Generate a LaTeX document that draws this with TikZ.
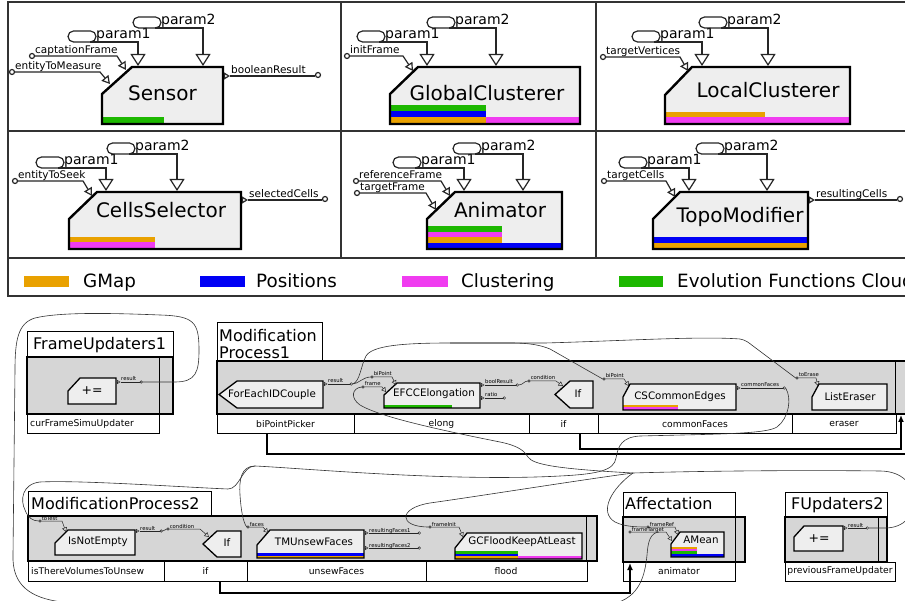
\documentclass[tikz,border=0pt]{standalone}
\usepackage{fontspec}
\setmainfont{DejaVu Sans}
\usetikzlibrary{arrows.meta}
\definecolor{cOr}{HTML}{E9A100}
\definecolor{cBl}{HTML}{0000F5}
\definecolor{cMg}{HTML}{F03CF0}
\definecolor{cGr}{HTML}{1DB800}
\definecolor{blkfill}{HTML}{EEEEEE}
\definecolor{grpfill}{HTML}{D6D6D6}
% block with cut top-left corner: x1,y1,x2,y2,cutx,cuty
\newcommand\blkshape[7][]{\path[#1] ({#2+#6},#3) -- (#4,#3) -- (#4,#5) -- (#2,#5) -- (#2,{#3+#7}) -- cycle;}
% left-pointing block: xtip, xcorner, xright, ytop, ybottom
\newcommand\ptshape[6][]{\path[#1] (#3,#5) -- (#4,#5) -- (#4,#6) -- (#3,#6) -- (#2,{(#5+#6)/2}) -- cycle;}
% big ports
\newcommand\myinport[6]{%
  \coordinate (#1c) at (#3,#4);
  \draw[pl] (#1c) circle[radius=2.5pt];
  \node[plab, anchor=base west, inner sep=0] (#1) at ({#3+3},{#4-2.5}) {#2};
  \draw[pl,-{Triangle[open,length=8pt,width=9pt]}] ({#3+2.5},#4) -- (#5,#4) -- #6;}
\newcommand\myoutport[5]{%
  \draw[pl,-{Triangle[open,length=6pt,width=7pt]}] (#3,#4) -- ({#3+6},#4);
  \draw[pl] ({#3+6},#4) -- (#5,#4);
  \draw[pl] ({#5+3},{#4-1}) circle[radius=2.5pt];
  \node[plab, anchor=base west, inner sep=0] (#1) at ({#3+7},{#4-2.5}) {#2};}
\newcommand\myparam[6]{%
  \draw[pl, rounded corners=5.5pt] (#2,#3) rectangle ({#2+28},{#3+11});
  \node[prm, anchor=base west, inner sep=0] (#1) at ({#2+28},{#3+8}) {#4};
  \draw[pl,-{Triangle[open,length=12pt,width=15pt]}] ({#2+22},{#3+11}) -- (#5,{#3+11}) -- (#5,#6);}
% tiny ports
\newcommand\mytin[6]{%
  \coordinate (#1c) at (#3,#4);
  \coordinate (#1w) at ({#3-1.3},#4);
  \draw[tpl] (#1c) circle[radius=1.3pt];
  \node[tlab, anchor=base west, inner sep=0] (#1) at ({#3+1.6},{#4-1}) {#2};
  \draw[tpl,-{Triangle[open,length=4.5pt,width=5pt]}] ({#3+1.3},#4) -- (#5,#4) -- #6;}
\newcommand\mytout[5]{%
  \draw[tpl,-{Triangle[open,length=3.5pt,width=4pt]}] (#3,#4) -- ({#3+3.5},#4);
  \draw[tpl] ({#3+3.5},#4) -- (#5,#4);
  \draw[tpl] ({#5+1.3},#4) circle[radius=1.3pt];
  \coordinate (#1e) at ({#5+2.6},#4);
  \node[tlab, anchor=base west, inner sep=0] (#1) at ({#3+4},{#4-1}) {#2};}
\begin{document}
\begin{tikzpicture}[x=1pt,y=-1pt,
  pl/.style={line width=1.2pt, draw=black!85},
  tpl/.style={line width=0.5pt, draw=black!85},
  conn/.style={line width=0.6pt, draw=black!80},
  ctrl/.style={line width=1.6pt, draw=black},
  gridline/.style={line width=1.3pt, draw=black!80},
  thinbox/.style={line width=1pt, draw=black},
  grp/.style={fill=grpfill, draw=black, line width=2pt},
  topb/.style={draw=black, line width=2.4pt},
  botb/.style={draw=black, line width=1.3pt},
  ttl/.style={font=\fontsize{20}{24}\selectfont, inner sep=0},
  prm/.style={font=\fontsize{14}{16}\selectfont},
  plab/.style={font=\fontsize{10.5}{12}\selectfont},
  tlab/.style={font=\fontsize{5.3}{6}\selectfont},
  leg/.style={font=\fontsize{18.3}{21}\selectfont, inner sep=0, anchor=base west},
  gttl/.style={font=\fontsize{16}{17}\selectfont, inner sep=0},
  btxt/.style={font=\fontsize{10.3}{12}\selectfont, inner sep=0},
  rowlab/.style={font=\fontsize{9.2}{11}\selectfont, inner sep=0},
  pe/.style={font=\fontsize{12.5}{14}\selectfont, inner sep=0}]
\useasboundingbox (0,0) rectangle (905,601);
\clip (0,0) rectangle (905,601);
\fill[white] (0,0) rectangle (905,601);

% ---------------- top grid ----------------
\draw[gridline] (8,2) rectangle (925,296);
\draw[gridline] (8,131) -- (925,131);
\draw[gridline] (8,258) -- (925,258);
\draw[gridline] (341,2) -- (341,258);
\draw[gridline] (596,2) -- (596,258);

% Sensor
\blkshape[fill=blkfill]{102}{67}{223}{124}{30}{27}
\fill[cGr] (102,117) rectangle (164,124);
\blkshape[topb]{102}{67}{223}{124}{30}{27}
\node[ttl] (sensor) at (162.5,93) {Sensor};
\myparam{s1}{68}{31}{param1}{138}{66}
\myparam{s2}{133}{17}{param2}{203}{66}
\myinport{sCF}{captationFrame}{32}{56}{117}{(126,70)}
\myinport{sEM}{entityToMeasure}{12}{72}{100}{(110,84)}
\myoutport{sBR}{booleanResult}{224}{76}{315}

% GlobalClusterer
\blkshape[fill=blkfill]{390}{67}{580}{124}{28}{27}
\fill[cGr] (390,105) rectangle (486,111);
\fill[cBl] (390,111) rectangle (486,117);
\fill[cOr] (390,117) rectangle (486,124);
\fill[cMg] (486,117) rectangle (580,124);
\blkshape[topb]{390}{67}{580}{124}{28}{27}
\node[ttl] (gclus) at (487,93) {GlobalClusterer};
\myparam{g1}{357}{31}{param1}{427}{66}
\myparam{g2}{427}{17}{param2}{496}{66}
\myinport{gIF}{initFrame}{347}{56}{403}{(413,71)}

% LocalClusterer
\blkshape[fill=blkfill]{665}{67}{850}{124}{27}{28}
\fill[cOr] (665,112) rectangle (765,117);
\fill[cMg] (665,117) rectangle (850,124);
\blkshape[topb]{665}{67}{850}{124}{27}{28}
\node[ttl] (lclus) at (768,90) {LocalClusterer};
\myparam{l1}{632}{31}{param1}{702}{66}
\myparam{l2}{699}{17}{param2}{768}{66}
\myinport{lTV}{targetVertices}{603}{57}{680}{(688,71)}

% CellsSelector
\blkshape[fill=blkfill]{69}{192}{241}{249}{28}{27}
\fill[cOr] (69,237) rectangle (155,242);
\fill[cMg] (69,242) rectangle (155,249);
\blkshape[topb]{69}{192}{241}{249}{28}{27}
\node[ttl] (csel) at (161,210) {CellsSelector};
\myparam{c1}{36}{157}{param1}{106}{191}
\myparam{c2}{107}{143}{param2}{177}{191}
\myinport{cES}{entityToSeek}{15}{181}{83}{(92,196)}
\myoutport{cSC}{selectedCells}{242}{200}{322}

% Animator
\blkshape[fill=blkfill]{427}{192}{562}{249}{28}{27}
\fill[cGr] (427,226) rectangle (502,232);
\fill[cMg] (427,232) rectangle (502,237);
\fill[cOr] (427,237) rectangle (502,243);
\fill[cBl] (427,243) rectangle (562,249);
\blkshape[topb]{427}{192}{562}{249}{28}{27}
\node[ttl] (anim) at (500,210) {Animator};
\myparam{a1}{393}{157}{param1}{464}{191}
\myparam{a2}{453}{143}{param2}{523}{191}
\myinport{aRF}{referenceFrame}{356}{181}{441}{(450,196)}
\myinport{aTF}{targetFrame}{357}{193}{426}{(436,210)}

% TopoModifier
\blkshape[fill=blkfill]{653}{192}{808}{249}{27}{27}
\fill[cBl] (653,237) rectangle (808,243);
\fill[cOr] (653,243) rectangle (808,249);
\blkshape[topb]{653}{192}{808}{249}{27}{27}
\node[ttl] (topo) at (740,217) {TopoModifier};
\myparam{t1}{619}{157}{param1}{689}{191}
\myparam{t2}{696}{143}{param2}{767}{191}
\myinport{tTC}{targetCells}{604}{181}{666}{(675,197)}
\myoutport{tRC}{resultingCells}{809}{200}{897}

% legend
\fill[cOr] (24,276) rectangle (69,287);
\node[leg] (lgmap) at (83,288) {GMap};
\fill[cBl] (200,276) rectangle (245,287);
\node[leg] (lpos) at (256,288) {Positions};
\fill[cMg] (402,276) rectangle (448,287);
\node[leg] (lclu) at (461,288) {Clustering};
\fill[cGr] (619,276) rectangle (663,287);
\node[leg] (levo) at (677,288) {Evolution Functions Cloud};

% ---------------- FrameUpdaters1 ----------------
\draw[thinbox] (27,332) rectangle (173,357);
\node[gttl, anchor=base west] (fu1t) at (33,350) {FrameUpdaters1};
\draw[grp] (27,357) rectangle (173,414);
\draw[thinbox] (27,414) rectangle (159,433);
\draw[line width=0.8pt] (159,357) -- (159,414);
\node[rowlab, anchor=west] (fu1l) at (30,424) {curFrameSimuUpdater};
\blkshape[fill=blkfill, botb]{68}{378}{116}{404}{12}{13}
\node[pe] (fu1pe) at (92,391) {+=};
\mytout{fuA}{result}{117}{382}{140}

% ---------------- ModificationProcess1 ----------------
\draw[thinbox] (217,323) rectangle (322,361);
\node[gttl, anchor=north west, align=left] (mp1t) at (219,329) {Modification\\Process1};
\draw[grp] (217,361) rectangle (925,414);
\draw[line width=0.8pt] (895.5,361) -- (895.5,414);
\draw[thinbox] (217,414) rectangle (896,433);
\draw[thinbox] (354,414) -- (354,433) (529,414) -- (529,433) (598,414) -- (598,433) (792,414) -- (792,433);
\node[rowlab] (lbpp) at (285.5,424) {biPointPicker};
\node[rowlab] (lelo) at (441.5,424) {elong};
\node[rowlab] (lif1) at (563.5,424) {if};
\node[rowlab] (lcmf) at (695,424) {commonFaces};
\node[rowlab] (lera) at (844,424) {eraser};

\ptshape[fill=blkfill, botb]{219}{237}{323}{381}{408}
\node[btxt] (fe) at (272,395) {ForEachIDCouple};
\blkshape[fill=blkfill]{384}{383}{480}{408}{13}{12}
\fill[cGr] (384,405) rectangle (452,408);
\blkshape[botb]{384}{383}{480}{408}{13}{12}
\node[btxt] (ef) at (434,394) {EFCCElongation};
\ptshape[fill=blkfill, botb]{555}{570}{593}{381}{408}
\node[btxt] (ifa) at (578,394) {If};
\blkshape[fill=blkfill]{623}{384}{736}{410}{7}{13}
\fill[cOr] (623,405) rectangle (678,407.5);
\fill[cMg] (623,407.5) rectangle (678,410);
\blkshape[botb]{623}{384}{736}{410}{7}{13}
\node[btxt] (cse) at (680,397) {CSCommonEdges};
\blkshape[fill=blkfill, botb]{812}{384}{887}{410}{7}{13}
\node[btxt] (le) at (850,397) {ListEraser};

\mytout{fer}{result}{324}{384}{350}
\mytin{efbp}{biPoint}{372}{377}{392}{(396,385)}
\mytin{effr}{frame}{363}{387}{382}{(386,392)}
\mytout{efbr}{boolResult}{481}{385}{516}
\mytout{efra}{ratio}{481}{398}{503}
\mytin{ifc}{condition}{529}{381}{556}{(563,386)}
\mytin{csbp}{biPoint}{604}{379}{624}{(629,386)}
\mytout{cscf}{commonFaces}{737}{388}{783}
\mytin{lete}{toErase}{797}{378}{816}{(818,386)}

\draw[ctrl] (267,433) -- (267,454) -- (925,454);
\draw[ctrl,-{Latex[length=7pt,width=6pt]}] (580,433) -- (580,449) -- (901,449) -- (901,415);

% ---------------- ModificationProcess2 ----------------
\draw[thinbox] (28,491) rectangle (211,516);
\node[gttl, anchor=base west] (mp2t) at (31,509) {ModificationProcess2};
\draw[grp] (28,516) rectangle (597,561);
\draw[line width=0.8pt] (586.5,516) -- (586.5,561);
\draw[thinbox] (28,561) rectangle (587,581);
\draw[thinbox] (164,561) -- (164,581) (247,561) -- (247,581) (426,561) -- (426,581);
\node[rowlab, anchor=west] (lisv) at (31,571) {isThereVolumesToUnsew};
\node[rowlab] (lif2) at (205.5,571) {if};
\node[rowlab] (lunf) at (336.5,571) {unsewFaces};
\node[rowlab] (lflo) at (506,571) {flood};

\blkshape[fill=blkfill, botb]{55}{530}{135}{555}{13}{13}
\node[btxt] (ine) at (98,542) {IsNotEmpty};
\ptshape[fill=blkfill, botb]{203}{217}{241}{531}{557}
\node[btxt] (ifb) at (227,543) {If};
\blkshape[fill=blkfill]{257}{530}{364}{558}{13}{15}
\fill[cBl] (257,552.5) rectangle (364,555.5);
\fill[cOr] (257,555.5) rectangle (364,558);
\blkshape[botb]{257}{530}{364}{558}{13}{15}
\node[btxt] (tmu) at (314,542) {TMUnsewFaces};
\blkshape[fill=blkfill]{455}{533}{582}{559}{12}{15}
\fill[cGr] (455,551) rectangle (518,553.5);
\fill[cBl] (455,553.5) rectangle (518,556);
\fill[cOr] (455,556) rectangle (518,559);
\fill[cMg] (518,556) rectangle (582,559);
\blkshape[botb]{455}{533}{582}{559}{12}{15}
\node[btxt] (gcf) at (522,542) {GCFloodKeepAtLeast};

\mytin{intt}{toTest}{40}{521}{62}{(66,532)}
\mytout{inr}{result}{136}{531}{160}
\mytin{ifbc}{condition}{168}{529}{200}{(209,537)}
\mytin{tmf}{faces}{248}{527}{263}{(268,533)}
\mytout{tmra}{resultingFaces1}{365}{533}{418}
\mytout{tmrb}{resultingFaces2}{365}{548}{418}
\mytin{gcfi}{frameInit}{430}{527}{459}{(463,537)}

\draw[ctrl,-{Latex[length=7pt,width=6pt]}] (220,581) -- (220,593) -- (630,593) -- (630,563);

% ---------------- Affectation ----------------
\draw[thinbox] (623,492) rectangle (735,517);
\node[gttl, anchor=base west] (aft) at (625,509) {Affectation};
\draw[grp] (623,517) rectangle (745,562);
\draw[line width=0.8pt] (735,517) -- (735,562);
\draw[thinbox] (623,562) rectangle (735,581);
\node[rowlab] (lani) at (679,571) {animator};
\blkshape[fill=blkfill]{671}{532}{724}{557}{9}{12}
\fill[cOr] (671,547) rectangle (697,549);
\fill[cMg] (671,549) rectangle (697,551);
\fill[cGr] (671,551) rectangle (697,553.5);
\fill[cBl] (671,553.5) rectangle (724,557);
\blkshape[botb]{671}{532}{724}{557}{9}{12}
\node[btxt] (am) at (701,540) {AMean};
\mytin{amfr}{frameRef}{648}{527}{675}{(678,535)}
\mytin{amft}{frameTarget}{630}{532}{666}{(672,541)}
\coordinate (amftj) at (659,532);

% ---------------- FUpdaters2 ----------------
\draw[thinbox] (785,492) rectangle (887,517);
\node[gttl, anchor=base west] (fu2t) at (791,509) {FUpdaters2};
\draw[grp] (785,517) rectangle (887,562);
\draw[line width=0.8pt] (878,517) -- (878,562);
\draw[thinbox] (785,562) rectangle (895,581);
\node[rowlab] (lpfu) at (840,571) {previousFrameUpdater};
\blkshape[fill=blkfill, botb]{794}{526}{843}{551}{10}{11}
\node[pe] (fu2pe) at (819,539) {+=};
\mytout{fuB}{result}{844}{528}{866}

% ---------------- data connectors ----------------
\coordinate (J) at (633,473);
% FrameUpdaters1 result -> AMean frameTarget (around the left and under)
\draw[conn] (fuAe) -- (175,382) .. controls (196,382) and (199,372) .. (199,350)
  .. controls (199,322) and (194,316) .. (160,315) .. controls (110,313) and (60,312) .. (35,318)
  .. controls (18,323) and (15,340) .. (15,370) -- (13,555) .. controls (12,585) and (30,598) .. (62,602)
  .. controls (200,625) and (500,625) .. (612,604) .. controls (640,598) and (645,575) .. (647,555)
  .. controls (648,542) and (650,533) .. (amftj);
% FUpdaters2 result -> junction
\draw[conn] (fuBe) -- (885,528) .. controls (925,528) and (925,471) .. (880,471)
  .. controls (800,470) and (700,471) .. (J);
\draw[conn] (J) .. controls (560,469) and (533,465) .. (528,457) .. controls (525,452) and (520,446) .. (500,442)
  .. controls (440,430) and (380,417) .. (360,405) .. controls (350,398) and (352,388) .. (effrw);
\draw[conn] (J) .. controls (580,480) and (480,496) .. (430,503) .. controls (398,508) and (398,527) .. (gcfiw);
\draw[conn] (J) .. controls (612,488) and (598,512) .. (615,522) .. controls (625,527) and (638,527) .. (amfrw);
% commonFaces -> faces, toTest
\draw[conn] (cscfe) .. controls (792,398) and (789,418) .. (777,427) .. controls (766,434) and (720,434) .. (640,436)
  .. controls (622,437) and (618,446) .. (616,458) .. controls (614,470) and (600,474) .. (560,476)
  .. controls (450,482) and (300,468) .. (255,466) coordinate (CFs)
  .. controls (241,466) and (239,480) .. (240,495) .. controls (241,510) and (243,522) .. (tmfw);
\draw[conn] (CFs) .. controls (242,466) and (240,489) .. (228,489) .. controls (180,487) and (80,480) .. (40,482)
  .. controls (22,484) and (20,500) .. (25,510) .. controls (28,518) and (33,521) .. (inttw);
% ForEachIDCouple result -> biPoint, biPoint, toErase
\draw[conn] (fere) .. controls (358,384) and (363,377) .. (efbpw);
\draw[conn] (fere) .. controls (360,382) and (361,365) .. (366,356) .. controls (372,346) and (400,343) .. (450,343)
  -- (545,343) .. controls (620,341) and (700,336) .. (740,339) .. controls (746,340) and (749,343) .. (753,346) -- (letew);
\draw[conn] (450,343) -- (510,343) .. controls (530,343) and (540,345) .. (550,349) -- (csbpw);
% boolean result -> condition
\draw[conn] (efbre) .. controls (523,385) and (524,381) .. (ifcw);
\draw[conn] (inre) .. controls (166,531) and (164,529) .. (ifbcw);
\end{tikzpicture}
\end{document}
